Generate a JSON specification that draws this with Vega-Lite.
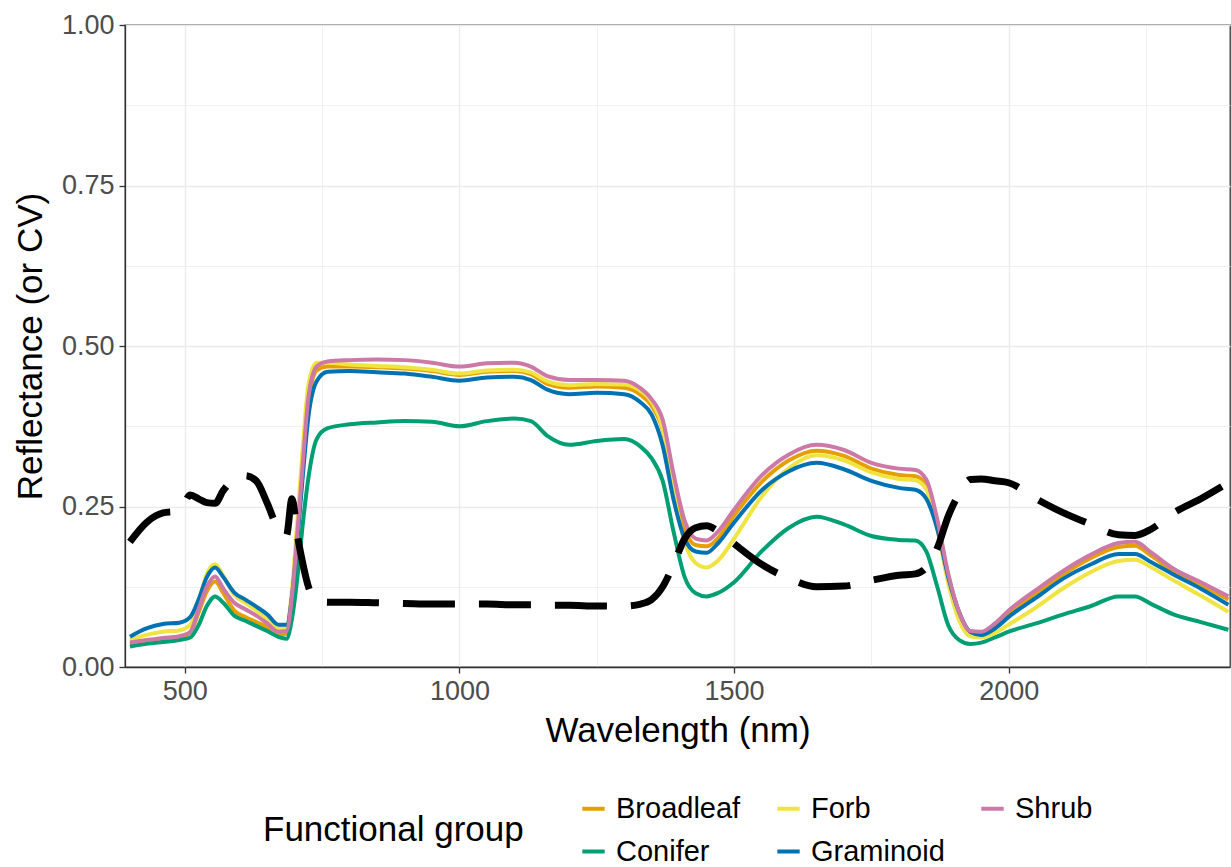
{
  "$schema": "https://vega.github.io/schema/vega-lite/v6.json",
  "autosize": {"type": "none"},
  "padding": {"left": 125, "top": 25, "right": 1, "bottom": 200},
  "width": 1105,
  "height": 642,
  "background": "white",
  "config": {
    "font": "Liberation Sans",
    "view": {"stroke": "#333333", "strokeWidth": 1.3},
    "axis": {
      "labelFont": "Liberation Sans",
      "titleFont": "Liberation Sans",
      "labelColor": "#4d4d4d",
      "titleColor": "#000000",
      "titleFontWeight": "normal",
      "domainColor": "#333333",
      "domainWidth": 1.3,
      "tickColor": "#333333",
      "tickWidth": 1.3,
      "tickSize": 6
    },
    "legend": {"labelFont": "Liberation Sans", "titleFont": "Liberation Sans"}
  },
  "data": {
    "values": [
      {"w":400,"Broadleaf":0.035,"Conifer":0.032,"Forb":0.042,"Graminoid":0.047,"Shrub":0.038,"CV":0.195},
      {"w":430,"Broadleaf":0.040,"Conifer":0.036,"Forb":0.050,"Graminoid":0.060,"Shrub":0.042,"CV":0.225},
      {"w":460,"Broadleaf":0.044,"Conifer":0.039,"Forb":0.055,"Graminoid":0.067,"Shrub":0.045,"CV":0.240},
      {"w":490,"Broadleaf":0.046,"Conifer":0.042,"Forb":0.057,"Graminoid":0.069,"Shrub":0.048,"CV":0.243},
      {"w":510,"Broadleaf":0.054,"Conifer":0.046,"Forb":0.066,"Graminoid":0.078,"Shrub":0.055,"CV":0.268},
      {"w":525,"Broadleaf":0.085,"Conifer":0.065,"Forb":0.100,"Graminoid":0.105,"Shrub":0.090,"CV":0.262},
      {"w":540,"Broadleaf":0.118,"Conifer":0.095,"Forb":0.145,"Graminoid":0.140,"Shrub":0.125,"CV":0.256},
      {"w":555,"Broadleaf":0.133,"Conifer":0.110,"Forb":0.160,"Graminoid":0.155,"Shrub":0.141,"CV":0.255},
      {"w":570,"Broadleaf":0.115,"Conifer":0.100,"Forb":0.142,"Graminoid":0.140,"Shrub":0.122,"CV":0.275},
      {"w":590,"Broadleaf":0.088,"Conifer":0.080,"Forb":0.112,"Graminoid":0.116,"Shrub":0.100,"CV":0.293},
      {"w":610,"Broadleaf":0.078,"Conifer":0.072,"Forb":0.100,"Graminoid":0.105,"Shrub":0.090,"CV":0.298},
      {"w":630,"Broadleaf":0.070,"Conifer":0.064,"Forb":0.088,"Graminoid":0.094,"Shrub":0.080,"CV":0.290},
      {"w":650,"Broadleaf":0.062,"Conifer":0.056,"Forb":0.075,"Graminoid":0.082,"Shrub":0.068,"CV":0.255},
      {"w":670,"Broadleaf":0.050,"Conifer":0.047,"Forb":0.060,"Graminoid":0.066,"Shrub":0.055,"CV":0.215},
      {"w":685,"Broadleaf":0.052,"Conifer":0.044,"Forb":0.062,"Graminoid":0.066,"Shrub":0.056,"CV":0.205},
      {"w":695,"Broadleaf":0.105,"Conifer":0.075,"Forb":0.120,"Graminoid":0.110,"Shrub":0.110,"CV":0.262},
      {"w":705,"Broadleaf":0.205,"Conifer":0.140,"Forb":0.230,"Graminoid":0.200,"Shrub":0.210,"CV":0.205},
      {"w":715,"Broadleaf":0.315,"Conifer":0.225,"Forb":0.345,"Graminoid":0.300,"Shrub":0.320,"CV":0.160},
      {"w":725,"Broadleaf":0.410,"Conifer":0.295,"Forb":0.440,"Graminoid":0.390,"Shrub":0.420,"CV":0.125},
      {"w":740,"Broadleaf":0.462,"Conifer":0.355,"Forb":0.474,"Graminoid":0.445,"Shrub":0.468,"CV":0.105},
      {"w":760,"Broadleaf":0.468,"Conifer":0.372,"Forb":0.474,"Graminoid":0.460,"Shrub":0.476,"CV":0.101},
      {"w":800,"Broadleaf":0.468,"Conifer":0.378,"Forb":0.471,"Graminoid":0.461,"Shrub":0.478,"CV":0.101},
      {"w":850,"Broadleaf":0.467,"Conifer":0.381,"Forb":0.469,"Graminoid":0.459,"Shrub":0.479,"CV":0.100},
      {"w":900,"Broadleaf":0.465,"Conifer":0.383,"Forb":0.467,"Graminoid":0.457,"Shrub":0.478,"CV":0.099},
      {"w":950,"Broadleaf":0.461,"Conifer":0.382,"Forb":0.463,"Graminoid":0.452,"Shrub":0.474,"CV":0.098},
      {"w":1000,"Broadleaf":0.455,"Conifer":0.375,"Forb":0.457,"Graminoid":0.446,"Shrub":0.468,"CV":0.098},
      {"w":1050,"Broadleaf":0.460,"Conifer":0.383,"Forb":0.462,"Graminoid":0.451,"Shrub":0.473,"CV":0.098},
      {"w":1100,"Broadleaf":0.461,"Conifer":0.387,"Forb":0.463,"Graminoid":0.452,"Shrub":0.474,"CV":0.097},
      {"w":1130,"Broadleaf":0.456,"Conifer":0.383,"Forb":0.459,"Graminoid":0.447,"Shrub":0.468,"CV":0.097},
      {"w":1160,"Broadleaf":0.441,"Conifer":0.360,"Forb":0.445,"Graminoid":0.432,"Shrub":0.453,"CV":0.096},
      {"w":1200,"Broadleaf":0.435,"Conifer":0.346,"Forb":0.439,"Graminoid":0.425,"Shrub":0.447,"CV":0.096},
      {"w":1250,"Broadleaf":0.437,"Conifer":0.352,"Forb":0.441,"Graminoid":0.427,"Shrub":0.447,"CV":0.095},
      {"w":1300,"Broadleaf":0.435,"Conifer":0.355,"Forb":0.440,"Graminoid":0.425,"Shrub":0.446,"CV":0.095},
      {"w":1330,"Broadleaf":0.424,"Conifer":0.343,"Forb":0.430,"Graminoid":0.412,"Shrub":0.434,"CV":0.098},
      {"w":1350,"Broadleaf":0.407,"Conifer":0.325,"Forb":0.413,"Graminoid":0.393,"Shrub":0.417,"CV":0.105},
      {"w":1370,"Broadleaf":0.370,"Conifer":0.290,"Forb":0.372,"Graminoid":0.345,"Shrub":0.385,"CV":0.125},
      {"w":1390,"Broadleaf":0.285,"Conifer":0.210,"Forb":0.270,"Graminoid":0.260,"Shrub":0.300,"CV":0.160},
      {"w":1410,"Broadleaf":0.215,"Conifer":0.140,"Forb":0.195,"Graminoid":0.200,"Shrub":0.228,"CV":0.200},
      {"w":1430,"Broadleaf":0.190,"Conifer":0.115,"Forb":0.162,"Graminoid":0.180,"Shrub":0.200,"CV":0.217},
      {"w":1450,"Broadleaf":0.188,"Conifer":0.110,"Forb":0.155,"Graminoid":0.178,"Shrub":0.197,"CV":0.220},
      {"w":1470,"Broadleaf":0.200,"Conifer":0.115,"Forb":0.165,"Graminoid":0.192,"Shrub":0.210,"CV":0.212},
      {"w":1500,"Broadleaf":0.236,"Conifer":0.132,"Forb":0.200,"Graminoid":0.225,"Shrub":0.245,"CV":0.192},
      {"w":1550,"Broadleaf":0.288,"Conifer":0.180,"Forb":0.265,"Graminoid":0.275,"Shrub":0.298,"CV":0.160},
      {"w":1600,"Broadleaf":0.322,"Conifer":0.217,"Forb":0.310,"Graminoid":0.305,"Shrub":0.331,"CV":0.138},
      {"w":1650,"Broadleaf":0.337,"Conifer":0.234,"Forb":0.330,"Graminoid":0.318,"Shrub":0.346,"CV":0.125},
      {"w":1700,"Broadleaf":0.329,"Conifer":0.222,"Forb":0.322,"Graminoid":0.308,"Shrub":0.338,"CV":0.126},
      {"w":1750,"Broadleaf":0.309,"Conifer":0.204,"Forb":0.303,"Graminoid":0.290,"Shrub":0.318,"CV":0.135},
      {"w":1800,"Broadleaf":0.299,"Conifer":0.198,"Forb":0.293,"Graminoid":0.279,"Shrub":0.309,"CV":0.143},
      {"w":1830,"Broadleaf":0.297,"Conifer":0.197,"Forb":0.291,"Graminoid":0.276,"Shrub":0.307,"CV":0.145},
      {"w":1850,"Broadleaf":0.283,"Conifer":0.180,"Forb":0.277,"Graminoid":0.262,"Shrub":0.292,"CV":0.155},
      {"w":1870,"Broadleaf":0.225,"Conifer":0.125,"Forb":0.215,"Graminoid":0.215,"Shrub":0.230,"CV":0.185},
      {"w":1890,"Broadleaf":0.142,"Conifer":0.065,"Forb":0.130,"Graminoid":0.140,"Shrub":0.145,"CV":0.235},
      {"w":1910,"Broadleaf":0.083,"Conifer":0.042,"Forb":0.072,"Graminoid":0.085,"Shrub":0.085,"CV":0.270},
      {"w":1930,"Broadleaf":0.053,"Conifer":0.036,"Forb":0.048,"Graminoid":0.055,"Shrub":0.056,"CV":0.292},
      {"w":1950,"Broadleaf":0.052,"Conifer":0.038,"Forb":0.046,"Graminoid":0.050,"Shrub":0.055,"CV":0.293},
      {"w":1975,"Broadleaf":0.064,"Conifer":0.046,"Forb":0.053,"Graminoid":0.060,"Shrub":0.068,"CV":0.290},
      {"w":2000,"Broadleaf":0.083,"Conifer":0.055,"Forb":0.066,"Graminoid":0.078,"Shrub":0.088,"CV":0.287},
      {"w":2050,"Broadleaf":0.115,"Conifer":0.068,"Forb":0.093,"Graminoid":0.108,"Shrub":0.120,"CV":0.262},
      {"w":2100,"Broadleaf":0.145,"Conifer":0.082,"Forb":0.123,"Graminoid":0.138,"Shrub":0.150,"CV":0.240},
      {"w":2150,"Broadleaf":0.170,"Conifer":0.095,"Forb":0.148,"Graminoid":0.160,"Shrub":0.175,"CV":0.222},
      {"w":2200,"Broadleaf":0.187,"Conifer":0.110,"Forb":0.165,"Graminoid":0.176,"Shrub":0.193,"CV":0.206},
      {"w":2230,"Broadleaf":0.189,"Conifer":0.110,"Forb":0.167,"Graminoid":0.176,"Shrub":0.195,"CV":0.205},
      {"w":2260,"Broadleaf":0.173,"Conifer":0.098,"Forb":0.155,"Graminoid":0.163,"Shrub":0.178,"CV":0.215},
      {"w":2300,"Broadleaf":0.149,"Conifer":0.082,"Forb":0.135,"Graminoid":0.144,"Shrub":0.153,"CV":0.240},
      {"w":2350,"Broadleaf":0.128,"Conifer":0.070,"Forb":0.111,"Graminoid":0.122,"Shrub":0.132,"CV":0.262},
      {"w":2400,"Broadleaf":0.105,"Conifer":0.058,"Forb":0.086,"Graminoid":0.097,"Shrub":0.110,"CV":0.287}
    ]
  },
  "encoding": {
    "x": {
      "field": "w",
      "type": "quantitative",
      "scale": {"domain": [391, 2403], "nice": false, "zero": false},
      "axis": {
        "title": "Wavelength (nm)",
        "values": [500, 750, 1000, 1250, 1500, 1750, 2000, 2250],
        "labelExpr": "datum.value % 500 === 0 ? datum.label : ''",
        "tickOpacity": {"condition": {"test": "datum.value % 500 !== 0", "value": 0}, "value": 1},
        "gridColor": "#ebebeb",
        "gridWidth": {"condition": {"test": "datum.value % 500 !== 0", "value": 0.7}, "value": 1.4},
        "labelFontSize": 27,
        "labelPadding": 5,
        "titleFontSize": 35,
        "titlePadding": 9,
        "format": "d"
      }
    },
    "y": {
      "type": "quantitative",
      "scale": {"domain": [0, 1], "nice": false},
      "axis": {
        "title": "Reflectance (or CV)",
        "values": [0, 0.125, 0.25, 0.375, 0.5, 0.625, 0.75, 0.875, 1],
        "labelExpr": "datum.value % 0.25 === 0 ? format(datum.value, '.2f') : ''",
        "tickOpacity": {"condition": {"test": "datum.value % 0.25 !== 0", "value": 0}, "value": 1},
        "gridColor": "#ebebeb",
        "gridWidth": {"condition": {"test": "datum.value % 0.25 !== 0", "value": 0.7}, "value": 1.4},
        "labelFontSize": 27,
        "labelPadding": 5,
        "titleFontSize": 35,
        "titlePadding": 13
      }
    }
  },
  "layer": [
    {
      "transform": [{"fold": ["Broadleaf", "Conifer", "Forb", "Graminoid", "Shrub"], "as": ["group", "r"]}],
      "mark": {"type": "line", "strokeWidth": 4, "interpolate": "monotone", "clip": true},
      "encoding": {
        "y": {"field": "r", "type": "quantitative"},
        "color": {
          "field": "group",
          "type": "nominal",
          "scale": {
            "domain": ["Broadleaf", "Forb", "Shrub", "Conifer", "Graminoid"],
            "range": ["#E69F00", "#F0E442", "#CC79A7", "#009E73", "#0072B2"]
          },
          "legend": {
            "title": "Functional group",
            "orient": "none",
            "legendX": 138,
            "legendY": 769,
            "direction": "horizontal",
            "columns": 3,
            "titleOrient": "left",
            "titleAnchor": "middle",
            "titleBaseline": "middle",
            "titleFontSize": 35,
            "titleLimit": 600,
            "titleFontWeight": "normal",
            "titleColor": "#000000",
            "titlePadding": 55,
            "labelFontSize": 29,
            "labelLimit": 400,
            "labelColor": "#000000",
            "labelOffset": 8,
            "symbolType": "stroke",
            "symbolStrokeWidth": 4,
            "symbolSize": 500,
            "columnPadding": 28,
            "rowPadding": 13,
            "padding": 0
          }
        }
      }
    },
    {
      "mark": {"type": "line", "color": "#000000", "strokeWidth": 7, "strokeDash": [52, 24], "interpolate": "monotone", "clip": true},
      "encoding": {"y": {"field": "CV", "type": "quantitative"}}
    }
  ]
}
